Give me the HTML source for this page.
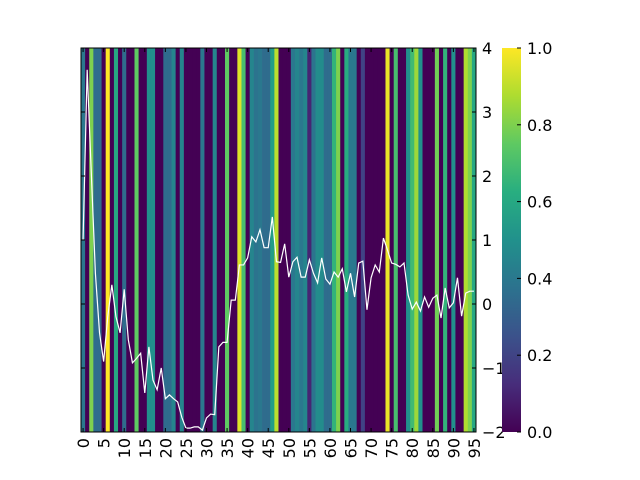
<!DOCTYPE html>
<html><head><meta charset="utf-8"><style>
html,body{margin:0;padding:0;background:#fff;width:640px;height:480px;overflow:hidden}
svg text{font-family:"DejaVu Sans","Liberation Sans",sans-serif;font-size:16px;fill:#000}
</style></head><body>
<svg id="chart" width="640" height="480" xmlns="http://www.w3.org/2000/svg">
<defs>
<linearGradient id="vir" x1="0" y1="1" x2="0" y2="0">
<stop offset="0" stop-color="#440154"/><stop offset="0.125" stop-color="#472d7b"/><stop offset="0.25" stop-color="#3b528b"/><stop offset="0.375" stop-color="#2c728e"/><stop offset="0.5" stop-color="#21918c"/><stop offset="0.625" stop-color="#28ae80"/><stop offset="0.75" stop-color="#5ec962"/><stop offset="0.875" stop-color="#addc30"/><stop offset="1" stop-color="#fde725"/>
</linearGradient>
</defs>
<g id="cells"></g>
<polyline id="line" fill="none" stroke="#fff" stroke-width="1.2"/>
<rect x="81" y="48" width="395" height="384" fill="none" stroke="#000" stroke-width="1"/>
<g id="axes"></g>
<rect x="502" y="48" width="19" height="384" fill="url(#vir)"/>
<g id="cbar"></g>
</svg>
<script>
const colValues=[0.4,0,0.8,0.35,0.35,0,1.0,0,0.6,0,0.35,0,0,0.75,0,0,0.5,0.5,0,0,0.35,0.35,0.45,0,0.45,0,0,0,0,0.4,0,0,
0.45,0,0,0.75,0,0,0.95,0.7,0,0.45,0.38,0.4,0.35,0.35,0.55,0.9,0,0,0,0.4,0.45,0.4,0.45,0.1,0.38,0.48,0.48,0.35,0.35,0.65,0.8,0,
0.62,0.4,0.4,0,0.2,0,0,0,0,0,0.97,0,0.7,0,0,0.5,0.68,0.85,0.5,0,0,0,0.78,0,0.65,0,0.5,0,0,0.88,0.8,0.6];
const lineValues=[1.0,3.66,2.05,0.48,-0.45,-0.9,-0.2,0.3,-0.2,-0.45,0.23,-0.56,-0.92,-0.85,-0.77,-1.39,-0.67,-1.19,-1.34,-1.0,-1.48,-1.42,-1.48,-1.53,-1.77,-1.94,-1.94,-1.92,-1.92,-1.97,-1.78,-1.72,
-1.73,-0.67,-0.6,-0.6,0.06,0.06,0.61,0.61,0.72,1.05,0.97,1.16,0.88,0.88,1.36,0.66,0.65,0.94,0.42,0.66,0.73,0.42,0.42,0.69,0.48,0.33,0.72,0.39,0.31,0.5,0.42,0.55,
0.19,0.48,0.11,0.64,0.67,-0.09,0.41,0.61,0.5,1.03,0.84,0.64,0.62,0.58,0.64,0.14,-0.08,0.03,-0.11,0.11,-0.05,0.09,0.14,-0.22,0.25,-0.06,0.02,0.41,-0.19,0.17,0.2,0.2];
const yTicks=[-2,-1,0,1,2,3,4];
const yTickLabels=["\u22122","\u22121","0","1","2","3","4"];
const xTicks=[0,5,10,15,20,25,30,35,40,45,50,55,60,65,70,75,80,85,90,95];
const cTicks=[0,0.2,0.4,0.6,0.8,1.0];
const cTickLabels=["0.0","0.2","0.4","0.6","0.8","1.0"];

const X0=81,X1=476,Y0=48,Y1=432,N=colValues.length;
const cw=(X1-X0)/N;
const xCol=i=>X0+i*cw;
const xC=i=>X0+(i+0.5)*cw;
const yV=v=>Y1-(v-(-2))/6*(Y1-Y0);
const yC=v=>Y1-v*(Y1-Y0);
const stops=[[68,1,84],[71,45,123],[59,82,139],[44,114,142],[33,145,140],[40,174,128],[94,201,98],[173,220,48],[253,231,37]];
function viridis(t){t=Math.max(0,Math.min(1,t));const s=t*8,k=Math.min(7,Math.floor(s)),f=s-k;
const a=stops[k],b=stops[k+1];return `rgb(${a.map((c,j)=>Math.round(c+(b[j]-c)*f)).join(',')})`;}
const NS="http://www.w3.org/2000/svg";
function mk(t,attrs,parent){const e=document.createElementNS(NS,t);for(const k in attrs)e.setAttribute(k,attrs[k]);parent.appendChild(e);return e;}
const cells=document.getElementById('cells');
colValues.forEach((v,i)=>{const r=mk('rect',{x:xCol(i),y:Y0,width:cw+0.4,height:Y1-Y0,fill:viridis(v)},cells);

});
document.getElementById('line').setAttribute('points',lineValues.map((v,i)=>xC(i).toFixed(2)+','+yV(v).toFixed(2)).join(' '));
const ax=document.getElementById('axes');
yTicks.forEach((v,i)=>{const y=yV(v);
mk('line',{x1:X1-4,x2:X1,y1:y,y2:y,stroke:'#000'},ax);
mk('line',{x1:X0,x2:X0+4,y1:y,y2:y,stroke:'#000'},ax);
const t=mk('text',{x:X1+6,y:y+6},ax);t.textContent=yTickLabels[i];

});
xTicks.forEach(v=>{const x=xC(v);
mk('line',{x1:x,x2:x,y1:Y1-4,y2:Y1,stroke:'#000'},ax);
mk('line',{x1:x,x2:x,y1:Y0,y2:Y0+4,stroke:'#000'},ax);
const t=mk('text',{x:0,y:0,'text-anchor':'end',transform:`translate(${x+6},${Y1+6}) rotate(-90)`},ax);t.textContent=String(v);

});
const cb=document.getElementById('cbar');
cTicks.forEach((v,i)=>{const y=yC(v);
mk('line',{x1:517,x2:521,y1:y,y2:y,stroke:'#000'},cb);
const t=mk('text',{x:527,y:y+6},cb);t.textContent=cTickLabels[i];

});
</script>
</body></html>
